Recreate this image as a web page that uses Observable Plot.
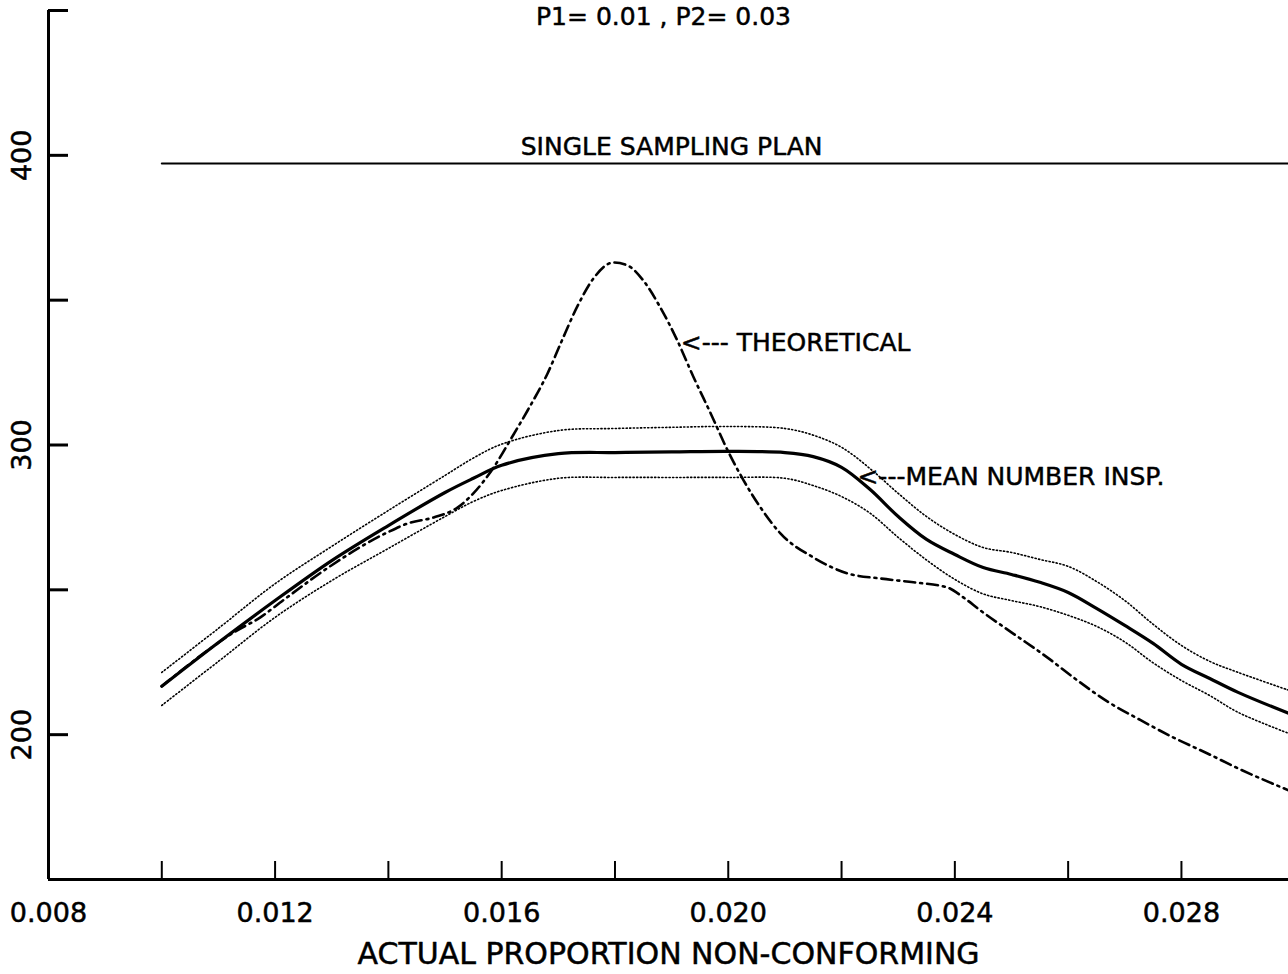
<!DOCTYPE html>
<html>
<head>
<meta charset="utf-8">
<script src="https://cdn.jsdelivr.net/npm/d3@7"></script>
<script src="https://cdn.jsdelivr.net/npm/@observablehq/plot@0.6"></script>
<style>
  html, body { margin: 0; padding: 0; background: #fff; }
  #chart svg { display: block; }
</style>
</head>
<body>
<div id="chart"></div>
<script>
// ---- data ----
const titleText = "P1= 0.01 , P2= 0.03";
const xTitle = "ACTUAL PROPORTION NON-CONFORMING";

const bandX = [0.0100, 0.0110, 0.0120, 0.0130, 0.0140, 0.0150, 0.0155, 0.0160, 0.0170, 0.0180,
               0.0190, 0.0200, 0.0210, 0.0215, 0.0220, 0.0225, 0.0230, 0.0235, 0.0240, 0.0245,
               0.0250, 0.0255, 0.0260, 0.0265, 0.0270, 0.0275, 0.0280, 0.0285, 0.0290, 0.0299];
const meanInsp = [216.7, 231.8, 246.3, 260.1, 272.2, 283.6, 288.5, 293.0, 297.0, 297.4,
                  297.6, 297.8, 297.4, 296.0, 292.3, 284.7, 275.3, 267.4, 262.2, 257.7,
                  255.3, 252.6, 249.1, 243.6, 237.7, 231.5, 224.3, 219.4, 214.6, 207.3];
const upperBand = [221.5, 236.7, 252.1, 265.0, 277.4, 289.5, 295.5, 300.3, 305.0, 305.7,
                   306.1, 306.4, 305.7, 303.4, 299.2, 291.9, 283.3, 275.3, 269.1, 264.6,
                   262.9, 260.5, 258.1, 252.9, 246.3, 238.1, 230.8, 225.3, 221.5, 215.3];
const lowerBand = [210.1, 225.3, 240.5, 253.2, 264.3, 275.3, 280.5, 284.3, 288.5, 288.8,
                   288.8, 288.8, 288.5, 286.0, 282.2, 276.5, 268.1, 260.3, 253.6, 248.6,
                   246.3, 244.2, 241.2, 237.4, 232.0, 224.8, 218.7, 213.5, 207.7, 200.4];

const theoX = [0.01000, 0.01086, 0.01127, 0.01174, 0.01215, 0.01300, 0.01400, 0.01434, 0.01480, 0.01522,
               0.01550, 0.01586, 0.01616, 0.01646, 0.01681, 0.01704, 0.01734, 0.01762, 0.01797, 0.01822,
               0.01850, 0.01880, 0.01910, 0.01939, 0.01969, 0.01999, 0.02027, 0.02057, 0.02092, 0.02150,
               0.02210, 0.02269, 0.02327, 0.02387, 0.02415, 0.02445, 0.02503, 0.02563, 0.02609, 0.02669,
               0.02728, 0.02786, 0.02846, 0.02904, 0.02989];
const theoretical = [216.7, 229.8, 235.3, 240.5, 246.5, 258.5, 270.0, 272.9, 275.0, 278.4,
                     283.3, 292.3, 302.0, 312.0, 324.7, 335.0, 348.0, 357.5, 363.0, 362.0,
                     356.8, 347.5, 336.1, 323.3, 310.9, 298.1, 287.8, 278.4, 269.5, 261.2,
                     255.7, 253.9, 252.6, 250.8, 247.4, 242.9, 234.9, 226.7, 219.8, 211.5,
                     205.0, 199.0, 193.5, 188.0, 180.8];

const singlePlanX = [0.0100, 0.0299];
const singlePlanN = 397.2;

const xDomain = [0.008, 0.02989];
const yDomain = [150, 450];
const xTicks = [0.010, 0.012, 0.014, 0.016, 0.018, 0.020, 0.022, 0.024, 0.026, 0.028];
const xTickLabels = [0.008, 0.012, 0.016, 0.020, 0.024, 0.028];
const yTicks = [200, 250, 300, 350, 400, 450];
const yTickLabels = [200, 300, 400];

const planLabel = {x: 0.0190, y: singlePlanN, text: "SINGLE SAMPLING PLAN"};
const arrowLabels = [
  {x: 0.01916, y: 335.1, text: "<--- THEORETICAL"},
  {x: 0.02228, y: 288.8, text: "<---MEAN NUMBER INSP."}
];

// ---- build tables ----
const rows = (xs, ys) => xs.map((x, i) => ({x, y: ys[i]}));
const meanRows = rows(bandX, meanInsp);
const upperRows = rows(bandX, upperBand);
const lowerRows = rows(bandX, lowerBand);
const theoRows = rows(theoX, theoretical);
const planRows = singlePlanX.map(x => ({x, y: singlePlanN}));

const W = 1288, H = 974;
const mL = 48, mR = 0, mT = 10, mB = 95;
const frameW = W - mL - mR, frameH = H - mT - mB;
const font = "'DejaVu Sans', sans-serif";
const ink = {fill: "#000", stroke: "#000", strokeWidth: 0.5};

const chart = Plot.plot({
  width: W,
  height: H,
  marginLeft: mL,
  marginRight: mR,
  marginTop: mT,
  marginBottom: mB,
  style: {fontFamily: font, background: "#fff", color: "#000"},
  x: {domain: xDomain, axis: null},
  y: {domain: yDomain, axis: null},
  marks: [
    // axes lines
    Plot.ruleX([xDomain[0]], {stroke: "#000", strokeWidth: 3}),
    Plot.ruleY([yDomain[0]], {stroke: "#000", strokeWidth: 3}),
    // inward ticks
    Plot.ruleX(xTicks, {x: d => d, insetTop: frameH - 18, stroke: "#000", strokeWidth: 2}),
    Plot.ruleY(yTicks, {y: d => d, insetRight: frameW - 20, stroke: "#000", strokeWidth: 3}),
    // tick labels
    Plot.text(xTickLabels, {x: d => d, frameAnchor: "bottom", dy: 42, lineAnchor: "bottom",
      text: d => d3.format(".3f")(d), fontSize: 27, ...ink}),
    Plot.text(yTickLabels, {y: d => d, frameAnchor: "left", dx: -26, rotate: -90,
      textAnchor: "middle", lineAnchor: "middle", text: d => String(d), fontSize: 27, ...ink}),
    // titles
    Plot.text([xTitle], {frameAnchor: "bottom", dy: 84, lineAnchor: "bottom", text: d => d,
      fontSize: 30, ...ink}),
    Plot.text([titleText], {frameAnchor: "top", dx: -5, dy: 14, lineAnchor: "bottom", text: d => d,
      fontSize: 25, ...ink}),
    // single sampling plan
    Plot.line(planRows, {x: "x", y: "y", stroke: "#000", strokeWidth: 2, clip: true}),
    // confidence bands (dotted)
    Plot.line(upperRows, {x: "x", y: "y", stroke: "#000", strokeWidth: 1.6,
      strokeDasharray: "1.2,2.4", curve: "catmull-rom", clip: true}),
    Plot.line(lowerRows, {x: "x", y: "y", stroke: "#000", strokeWidth: 1.6,
      strokeDasharray: "1.2,2.4", curve: "catmull-rom", clip: true}),
    // theoretical (dash-dot)
    Plot.line(theoRows, {x: "x", y: "y", stroke: "#000", strokeWidth: 2.6,
      strokeDasharray: "11,5,2,5", curve: "monotone-x", clip: true}),
    // mean number inspected
    Plot.line(meanRows, {x: "x", y: "y", stroke: "#000", strokeWidth: 3.2,
      curve: "catmull-rom", clip: true}),
    // annotations
    Plot.text([planLabel], {x: "x", y: "y", text: "text", textAnchor: "middle",
      lineAnchor: "bottom", dy: -8, fontSize: 25, ...ink}),
    Plot.text(arrowLabels, {x: "x", y: "y", text: "text", textAnchor: "start",
      lineAnchor: "middle", fontSize: 25, ...ink})
  ]
});
document.getElementById("chart").appendChild(chart);
</script>
</body>
</html>
